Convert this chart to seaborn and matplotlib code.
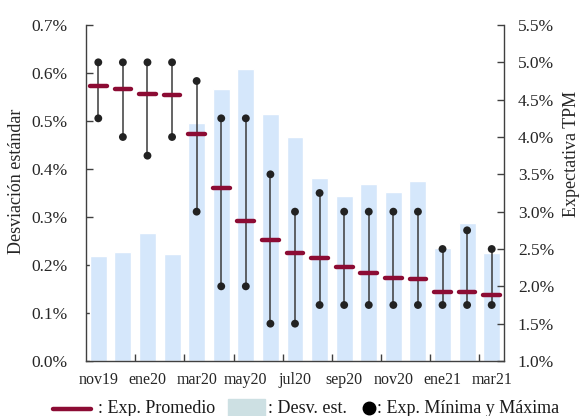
import numpy as np
import pandas as pd
import matplotlib
matplotlib.use("Agg")
import matplotlib.pyplot as plt
from matplotlib.lines import Line2D
from matplotlib.patches import Rectangle
from matplotlib.ticker import FuncFormatter, FixedLocator
import seaborn as sns

# Monthly survey, nov19 .. mar21
meses = ["nov19", "dic19", "ene20", "feb20", "mar20", "abr20", "may20", "jun20",
         "jul20", "ago20", "sep20", "oct20", "nov20", "dic20", "ene21", "feb21", "mar21"]
# Standard deviation of expectations (%), left axis
desv_est = [0.219, 0.227, 0.267, 0.223, 0.496, 0.566, 0.608, 0.515, 0.467,
            0.381, 0.344, 0.369, 0.353, 0.375, 0.235, 0.287, 0.225]
# Mean, minimum and maximum expected policy rate (%), right axis
exp_promedio = [4.68, 4.64, 4.58, 4.56, 4.04, 3.32, 2.88, 2.62, 2.44,
                2.38, 2.26, 2.18, 2.11, 2.10, 1.93, 1.93, 1.88]
exp_min = [4.25, 4.00, 3.75, 4.00, 3.00, 2.00, 2.00, 1.50, 1.50,
           1.75, 1.75, 1.75, 1.75, 1.75, 1.75, 1.75, 1.75]
exp_max = [5.00, 5.00, 5.00, 5.00, 4.75, 4.25, 4.25, 3.50, 3.00,
           3.25, 3.00, 3.00, 3.00, 3.00, 2.50, 2.75, 2.50]
etiquetas_x = meses[::2]

df = pd.DataFrame({"mes": meses, "desv": desv_est, "prom": exp_promedio,
                   "min": exp_min, "max": exp_max})
df["pos"] = np.arange(len(df))

sns.set_style("ticks")
plt.rcParams["font.family"] = ["Liberation Serif", "DejaVu Serif"]
plt.rcParams["text.color"] = "#1a1a1a"

W, H = 584, 416
fig = plt.figure(figsize=(W / 100, H / 100), dpi=100)
ax = fig.add_axes([86 / W, 1 - 361 / H, 418 / W, 336 / H])

COL_BAR = "#d5e7fb"
COL_RED = "#8c0c34"
COL_DOT = "#222222"
COL_SPINE = "#404040"

sns.barplot(data=df, x="mes", y="desv", color=COL_BAR, width=0.69,
            saturation=1, ax=ax, zorder=1)
ax.set_xlim(-0.5, len(df) - 0.5)
ax.set_ylim(0, 0.7)
ax.set_yticks(np.arange(0, 0.71, 0.1))
ax.yaxis.set_major_formatter(FuncFormatter(lambda v, _: f"{v:.1f}%"))
ax.set_xticks(np.arange(0, len(df), 2), etiquetas_x)
ax.xaxis.set_minor_locator(FixedLocator(np.arange(1.5, len(df) - 1, 2)))
ax.set_xlabel("")
ax.set_ylabel("Desviación estándar", fontsize=13)
ax.yaxis.set_label_coords(-0.145, 0.536)

ax2 = ax.twinx()
ax2.vlines(df["pos"], df["min"], df["max"], color="#3a3a3a", lw=1.1, zorder=2)
sns.scatterplot(x=np.concatenate([df["pos"], df["pos"]]),
                y=np.concatenate([df["min"], df["max"]]),
                color=COL_DOT, s=32, edgecolor="none", ax=ax2, zorder=3)
ax2.hlines(df["prom"], df["pos"] - 0.34, df["pos"] + 0.34, color=COL_RED,
           lw=3.2, capstyle="round", zorder=4)
ax2.set_ylim(1.0, 5.5)
ax2.set_yticks(np.arange(1.0, 5.51, 0.5))
ax2.yaxis.set_major_formatter(FuncFormatter(lambda v, _: f"{v:.1f}%"))
ax2.set_ylabel("Expectativa TPM", fontsize=13, rotation=90)
ax2.yaxis.set_label_coords(1.141, 0.616)

for a in (ax, ax2):
    a.spines["top"].set_visible(False)
    for s in ("left", "right", "bottom"):
        a.spines[s].set_color(COL_SPINE)
        a.spines[s].set_linewidth(1.0)
ax.spines["right"].set_visible(False)
ax2.spines["left"].set_visible(False)
ax2.spines["bottom"].set_visible(False)

ax.tick_params(axis="y", direction="in", length=5, width=1, color=COL_SPINE,
               labelsize=12.5, pad=13)
ax.tick_params(axis="x", which="major", length=0, labelsize=11.5, pad=8)
ax.tick_params(axis="x", which="minor", direction="in", length=5, width=1,
               color=COL_SPINE)
ax2.tick_params(axis="y", direction="in", length=5, width=1, color=COL_SPINE,
                labelsize=12.5, pad=10)

# Legend along the bottom edge
fs = 13
base = 1 - 413 / H
fig.add_artist(Line2D([53 / W, 91 / W], [1 - 409 / H] * 2, color=COL_RED,
                      lw=3.2, transform=fig.transFigure))
fig.text(98 / W, base, ": Exp. Promedio", fontsize=fs, va="baseline")
fig.add_artist(Rectangle((228 / W, 0), 37 / W, 17 / H, color="#cde0e3",
                         transform=fig.transFigure))
fig.text(268 / W, base, ": Desv. est.", fontsize=fs, va="baseline")
fig.add_artist(Line2D([369 / W], [1 - 408 / H], marker="o", markersize=9,
                      color="black", lw=0, transform=fig.transFigure))
fig.text(377 / W, base, ": Exp. Mínima y Máxima", fontsize=fs, va="baseline")

fig.savefig("out.png", dpi=100)
